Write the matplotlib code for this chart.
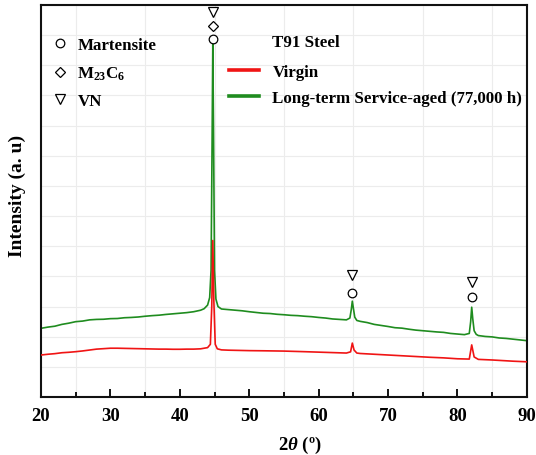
import matplotlib
matplotlib.use("Agg")
import matplotlib.pyplot as plt
from matplotlib.lines import Line2D
from matplotlib.ticker import MultipleLocator

plt.rcParams['font.family'] = ['Liberation Serif', 'DejaVu Serif']
plt.rcParams['font.weight'] = 'bold'
plt.rcParams['mathtext.fontset'] = 'custom'
plt.rcParams['mathtext.rm'] = 'Liberation Serif:bold'
plt.rcParams['mathtext.it'] = 'Liberation Serif:italic:bold'
plt.rcParams['mathtext.bf'] = 'Liberation Serif:bold'

# XRD pattern, long-term service-aged T91 (77,000 h)
aged_2theta = [20, 21, 22, 23, 24, 25, 26, 27, 28, 29, 30, 31, 32, 33, 34, 35, 36, 37, 38, 39,
               40, 41, 42, 43, 43.5, 44.0, 44.3, 44.5, 44.65, 44.75, 44.85, 45.0, 45.2, 45.5,
               46, 47, 48, 49, 50, 51, 52, 53, 54, 55, 56, 57, 58, 59, 60, 61, 62, 63, 64,
               64.5, 64.7, 64.85, 65.0, 65.2, 65.5, 66, 67, 68, 69, 70, 71, 72, 73, 74, 75,
               76, 77, 78, 79, 80, 81, 81.7, 81.9, 82.05, 82.2, 82.4, 82.7, 83, 84, 85, 86,
               87, 88, 89, 90]
aged_int = [2280, 2320, 2350, 2410, 2450, 2500, 2520, 2560, 2575, 2580, 2600, 2605, 2630, 2640,
            2655, 2680, 2700, 2715, 2740, 2760, 2780, 2800, 2830, 2880, 2930, 3050, 3300, 4200,
            8500, 11700, 9000, 4200, 3250, 3000, 2920, 2900, 2880, 2860, 2830, 2805, 2780,
            2770, 2745, 2730, 2710, 2700, 2680, 2665, 2640, 2620, 2590, 2575, 2560, 2620,
            2900, 3180, 2950, 2650, 2540, 2510, 2470, 2410, 2375, 2340, 2300, 2285, 2250,
            2220, 2200, 2180, 2160, 2145, 2110, 2090, 2070, 2110, 2500, 2980, 2600, 2200,
            2080, 2040, 2010, 1995, 1960, 1945, 1920, 1895, 1870]

# XRD pattern, virgin T91
virgin_2theta = [20, 21, 22, 23, 24, 25, 26, 27, 28, 29, 30, 31, 32, 33, 34, 35, 36, 37, 38, 39,
                 40, 41, 42, 43, 44.0, 44.4, 44.6, 44.75, 44.9, 45.1, 45.4, 46, 47, 48, 49, 50,
                 52, 55, 58, 60, 62, 64, 64.6, 64.85, 65.1, 65.5, 66, 68, 70, 72, 74, 76, 78,
                 80, 81.7, 82.05, 82.4, 83, 85, 88, 90]
virgin_int = [1395, 1420, 1440, 1470, 1485, 1505, 1530, 1560, 1590, 1605, 1620, 1620, 1615, 1610,
              1605, 1600, 1595, 1590, 1590, 1585, 1585, 1590, 1590, 1600, 1640, 1750, 3000,
              5190, 3200, 1750, 1600, 1565, 1555, 1550, 1545, 1540, 1535, 1525, 1505, 1490,
              1475, 1460, 1500, 1790, 1560, 1460, 1445, 1420, 1395, 1370, 1345, 1320, 1300,
              1270, 1260, 1730, 1330, 1250, 1230, 1190, 1170]

# Phase markers above the reflections
martensite_2theta = [44.75, 64.85, 82.05]
martensite_int = [11860, 3450, 3310]
carbide_2theta = [44.75]
carbide_int = [12290]
vn_2theta = [44.75, 64.85, 82.05]
vn_int = [12760, 4060, 3810]

x_ticks = [20, 30, 40, 50, 60, 70, 80, 90]

RED = '#f01414'
GREEN = '#1f8c1f'

fig = plt.figure(figsize=(5.36, 4.56), dpi=100)
ax = fig.add_axes([0.0765, 0.127, 0.9065, 0.86])

ax.plot(virgin_2theta, virgin_int, color=RED, lw=1.2, zorder=3)
ax.plot(aged_2theta, aged_int, color=GREEN, lw=1.2, zorder=2)

mk = dict(linestyle='none', markerfacecolor='white', markeredgecolor='black',
          markeredgewidth=0.9)
ax.plot(martensite_2theta, martensite_int, marker='o', markersize=6.2, zorder=4, **mk)
ax.plot(carbide_2theta, carbide_int, marker='D', markersize=4.6, zorder=4, **mk)
ax.plot(vn_2theta, vn_int, marker='v', markersize=7, zorder=4, **mk)

ax.set_xlim(20, 90)
ax.set_ylim(0, 13000)
ax.set_xticks(x_ticks)
ax.set_xticklabels([str(t) for t in x_ticks], fontsize=13.5, fontweight='bold')
ax.xaxis.set_minor_locator(MultipleLocator(5))
ax.yaxis.set_minor_locator(MultipleLocator(1000))
ax.set_yticks([])
ax.tick_params(axis='x', which='major', direction='in', length=6, width=1.3, pad=7)
ax.tick_params(axis='x', which='minor', direction='in', length=3.5, width=1.3)
ax.tick_params(axis='y', which='minor', left=False)

# faint background grid
for xv in range(25, 90, 10):
    ax.axvline(xv, color='#ececec', lw=0.8, zorder=0)
ax.grid(True, which='minor', axis='y', color='#ececec', lw=0.8, zorder=0)
ax.set_axisbelow(True)

for s in ax.spines.values():
    s.set_linewidth(1.5)
    s.set_color('#111111')

ax.set_xlabel(r'2$\mathit{\theta}$ (º)', fontsize=13.5, fontweight='bold')
ax.set_ylabel('Intensity (a. u)', fontsize=14, fontweight='bold')
ax.xaxis.set_label_coords(0.533, -0.093, transform=ax.transAxes)
ax.yaxis.set_label_coords(-0.03, 0.515, transform=ax.transAxes)

phase_handles = [
    Line2D([], [], marker='o', markersize=6.2, **mk),
    Line2D([], [], marker='D', markersize=4.6, **mk),
    Line2D([], [], marker='v', markersize=7, **mk),
]
leg1 = ax.legend(phase_handles, ['Martensite', r'M$_{\mathrm{23}}$C$_{\mathrm{6}}$', 'VN'],
                 loc='upper left', bbox_to_anchor=(0.0, 0.94), frameon=False,
                 prop={'family': 'Liberation Serif', 'weight': 'bold', 'size': 12.2},
                 handlelength=1.2, handletextpad=0.45, labelspacing=0.68, borderpad=0)
ax.add_artist(leg1)

series_handles = [Line2D([], [], color=RED, lw=2.6), Line2D([], [], color=GREEN, lw=2.6)]
ax.legend(series_handles, ['Virgin', 'Long-term Service-aged (77,000 h)'],
          loc='upper left', bbox_to_anchor=(0.37, 0.872), frameon=False,
          prop={'family': 'Liberation Serif', 'weight': 'bold', 'size': 12.2},
          handlelength=1.75, handletextpad=0.8, labelspacing=0.6, borderpad=0)
ax.text(0.475, 0.906, 'T91 Steel', transform=ax.transAxes, fontsize=12.2,
        fontweight='bold', va='center', ha='left')

fig.savefig('out.png', dpi=100)
